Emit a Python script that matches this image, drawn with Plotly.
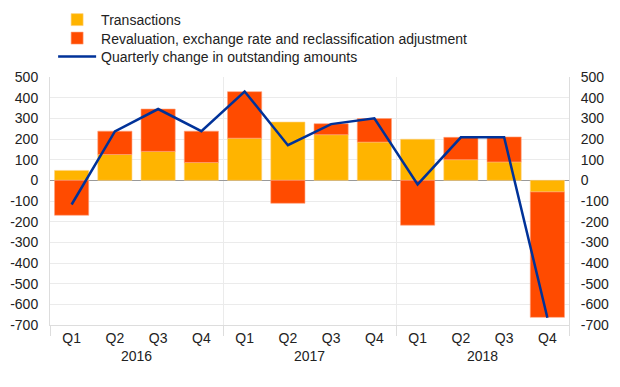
import plotly.graph_objects as go

years = ["2016"] * 4 + ["2017"] * 4 + ["2018"] * 4
quarters = ["Q1", "Q2", "Q3", "Q4"] * 3
transactions = [48, 125, 140, 86, 204, 282, 221, 185, 199, 100, 89, -56]
revaluation = [-169, 113, 205, 152, 225, -111, 53, 114, -217, 108, 121, -607]
quarterly_change = [-117, 237, 345, 238, 430, 170, 272, 300, -20, 208, 209, -665]
yticks = list(range(-700, 501, 100))
ytick_text = [str(v) for v in yticks]
year_bounds = [-0.5, 3.5, 7.5, 11.5]

x = [years, quarters]
font = dict(family="Liberation Sans, Arial, sans-serif", size=14, color="#222222")

fig = go.Figure()
fig.add_bar(x=x, y=transactions, name="Transactions", marker_color="#FFB400",
            marker_line=dict(color="#FFD27F", width=0.6), width=0.79, legend="legend")
fig.add_bar(x=x, y=revaluation, name="Revaluation, exchange rate and reclassification adjustment",
            marker_color="#FF4B00", marker_line=dict(color="#FFA07A", width=0.6), width=0.79,
            legend="legend2")
fig.add_scatter(x=x, y=quarterly_change, name="Quarterly change in outstanding amounts",
                mode="lines", line=dict(color="#003299", width=2.5), legend="legend3")
# invisible helper trace for the right axis and year-boundary grid
fig.add_scatter(x=list(range(len(quarterly_change))), y=quarterly_change, xaxis="x2", yaxis="y2",
                mode="lines", line=dict(width=0), showlegend=False, hoverinfo="skip", opacity=0)

leg = dict(x=0.006, xanchor="left", yanchor="middle", bgcolor="rgba(0,0,0,0)",
           font=dict(size=14), itemwidth=38)
fig.update_layout(
    width=620, height=387,
    margin=dict(l=42, r=59, t=69, b=70, autoexpand=False),
    barmode="relative",
    plot_bgcolor="white", paper_bgcolor="white",
    font=font,
    legend=dict(leg, y=1.2298),
    legend2=dict(leg, y=1.1552),
    legend3=dict(leg, y=1.0806),
    xaxis=dict(type="multicategory", showgrid=False, automargin=False,
               showline=True, linecolor="#dddddd", linewidth=1,
               ticks="", showdividers=False, tickfont=dict(size=14)),
    xaxis2=dict(overlaying="x", range=[-0.5, 11.5], tickvals=year_bounds, showticklabels=False,
                showgrid=True, gridcolor="#ebebeb", ticks="outside", ticklen=10,
                tickcolor="#dddddd", zeroline=False, showline=False, automargin=False,
                anchor="y", side="bottom"),
    yaxis=dict(range=[-700, 500], tickvals=yticks, ticktext=ytick_text, showgrid=True,
               gridcolor="#ebebeb", zeroline=True, zerolinecolor="#999999", zerolinewidth=1,
               showline=True, linecolor="#dddddd", ticks="", ticklabelstandoff=8,
               automargin=False),
    yaxis2=dict(range=[-700, 500], tickvals=yticks, ticktext=ytick_text, overlaying="y",
                side="right", showgrid=False, zeroline=False, showline=True,
                linecolor="#dddddd", ticks="", ticklabelstandoff=8, automargin=False),
)
fig.write_html("out.html")
